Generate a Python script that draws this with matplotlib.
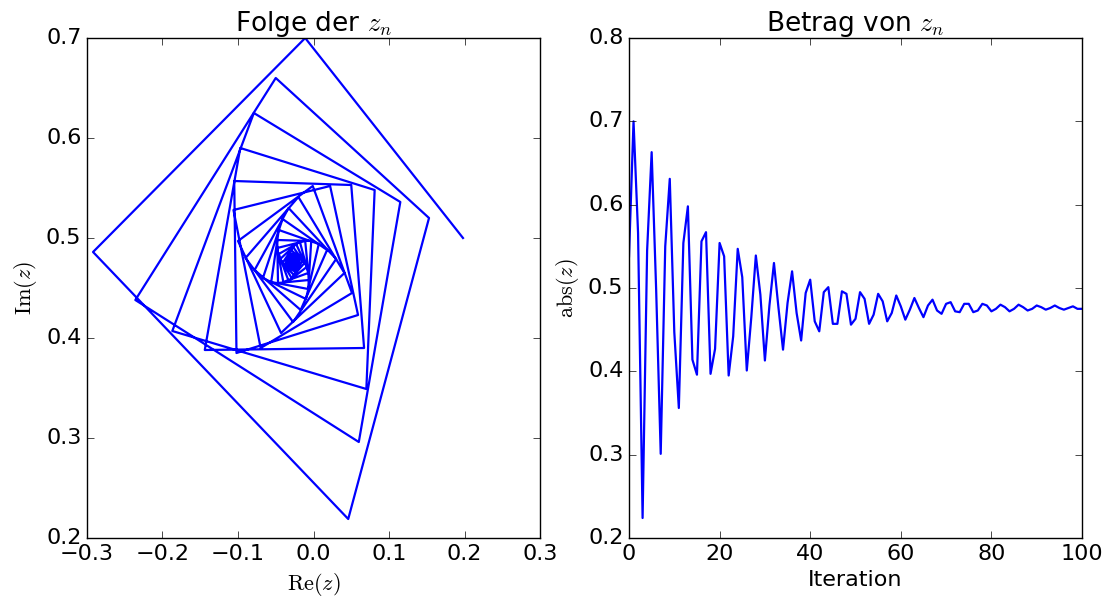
import numpy as np
import matplotlib
matplotlib.use("Agg")
import matplotlib.pyplot as plt

re_z = [0.198, -0.011, -0.292, 0.046, 0.153, -0.050, -0.236, 0.060, 0.115, -0.079,
        -0.187, 0.070, 0.081, -0.097, -0.144, 0.067, 0.050, -0.105, -0.102, 0.059,
        0.022, -0.106, -0.070, 0.051, -0.001, -0.100, -0.043, 0.041, -0.020, -0.090,
        -0.027, 0.030, -0.033, -0.078, -0.017, 0.018, -0.041, -0.067, -0.010, 0.007,
        -0.046, -0.056, -0.007, -0.003, -0.048, -0.047, -0.006, -0.011, -0.048, -0.040,
        -0.007, -0.018, -0.046, -0.033, -0.009, -0.023, -0.044, -0.029, -0.012, -0.027,
        -0.041, -0.026, -0.014, -0.030, -0.038, -0.024, -0.017, -0.031, -0.036, -0.022,
        -0.020, -0.032, -0.033, -0.022, -0.022, -0.032, -0.031, -0.022, -0.024, -0.032,
        -0.029, -0.022, -0.025, -0.032, -0.028, -0.023, -0.027, -0.031, -0.027, -0.024,
        -0.027, -0.030, -0.026, -0.024, -0.028, -0.029, -0.026, -0.025, -0.028, -0.029,
        -0.026]
im_z = [0.500, 0.700, 0.486, 0.219, 0.520, 0.660, 0.438, 0.296, 0.536, 0.625,
        0.407, 0.349, 0.548, 0.590, 0.388, 0.390, 0.553, 0.557, 0.385, 0.423,
        0.552, 0.528, 0.390, 0.445, 0.552, 0.497, 0.405, 0.465, 0.541, 0.480,
        0.416, 0.479, 0.530, 0.468, 0.428, 0.488, 0.519, 0.460, 0.439, 0.494,
        0.508, 0.456, 0.449, 0.497, 0.498, 0.455, 0.458, 0.497, 0.490, 0.456,
        0.465, 0.496, 0.484, 0.457, 0.471, 0.494, 0.479, 0.460, 0.475, 0.491,
        0.475, 0.463, 0.478, 0.488, 0.473, 0.466, 0.480, 0.485, 0.472, 0.468,
        0.481, 0.483, 0.471, 0.471, 0.481, 0.481, 0.471, 0.473, 0.481, 0.479,
        0.471, 0.474, 0.481, 0.477, 0.472, 0.475, 0.480, 0.476, 0.472, 0.476,
        0.479, 0.476, 0.473, 0.477, 0.479, 0.475, 0.474, 0.477, 0.478, 0.475,
        0.474]

# Betrag |z_n| (rechtes Bild)
abs_z = [0.538, 0.700, 0.566, 0.224, 0.545, 0.663, 0.497, 0.301, 0.550, 0.631,
         0.447, 0.356, 0.554, 0.598, 0.414, 0.396, 0.556, 0.567, 0.397, 0.427,
         0.554, 0.538, 0.395, 0.442, 0.547, 0.513, 0.401, 0.465, 0.539, 0.492,
         0.413, 0.479, 0.530, 0.476, 0.426, 0.482, 0.520, 0.470, 0.437, 0.494,
         0.510, 0.460, 0.448, 0.495, 0.501, 0.457, 0.457, 0.496, 0.493, 0.456,
         0.463, 0.495, 0.487, 0.457, 0.468, 0.493, 0.484, 0.460, 0.470, 0.491,
         0.478, 0.462, 0.474, 0.488, 0.476, 0.465, 0.479, 0.486, 0.473, 0.469,
         0.481, 0.483, 0.472, 0.471, 0.481, 0.481, 0.471, 0.473, 0.481, 0.479,
         0.472, 0.475, 0.480, 0.477, 0.472, 0.475, 0.480, 0.477, 0.473, 0.475,
         0.479, 0.477, 0.474, 0.476, 0.479, 0.476, 0.474, 0.476, 0.478, 0.475,
         0.475]
iterations = list(range(len(abs_z)))

plt.style.use('classic')
plt.rcParams['mathtext.fontset'] = 'cm'
plt.rcParams['font.size'] = 16

fig = plt.figure(figsize=(11.12, 6.09), dpi=100, facecolor='white')
W, H = 1112.0, 609.0
ax1 = fig.add_axes([87/W, (H-538)/H, 453/W, 500/H])
ax2 = fig.add_axes([629/W, (H-538)/H, 453/W, 500/H])

ax1.plot(re_z, im_z, color='b', linewidth=1.6)
ax1.set_xlim(-0.3, 0.3)
ax1.set_ylim(0.2, 0.7)
ax1.set_title(r"Folge der $z_n$", fontsize=19)
ax1.set_xlabel(r"$\mathrm{Re}(z)$", fontsize=16)
ax1.set_ylabel(r"$\mathrm{Im}(z)$", fontsize=16)

ax2.plot(iterations, abs_z, color='b', linewidth=1.6)
ax2.set_xlim(0, 100)
ax2.set_ylim(0.2, 0.8)
ax2.set_title(r"Betrag von $z_n$", fontsize=19)
ax2.set_xlabel("Iteration", fontsize=16)
ax2.set_ylabel(r"$\mathrm{abs}(z)$", fontsize=16)

for ax in (ax1, ax2):
    ax.tick_params(labelsize=16, length=5)

fig.savefig("out.png", dpi=100, facecolor='white')
